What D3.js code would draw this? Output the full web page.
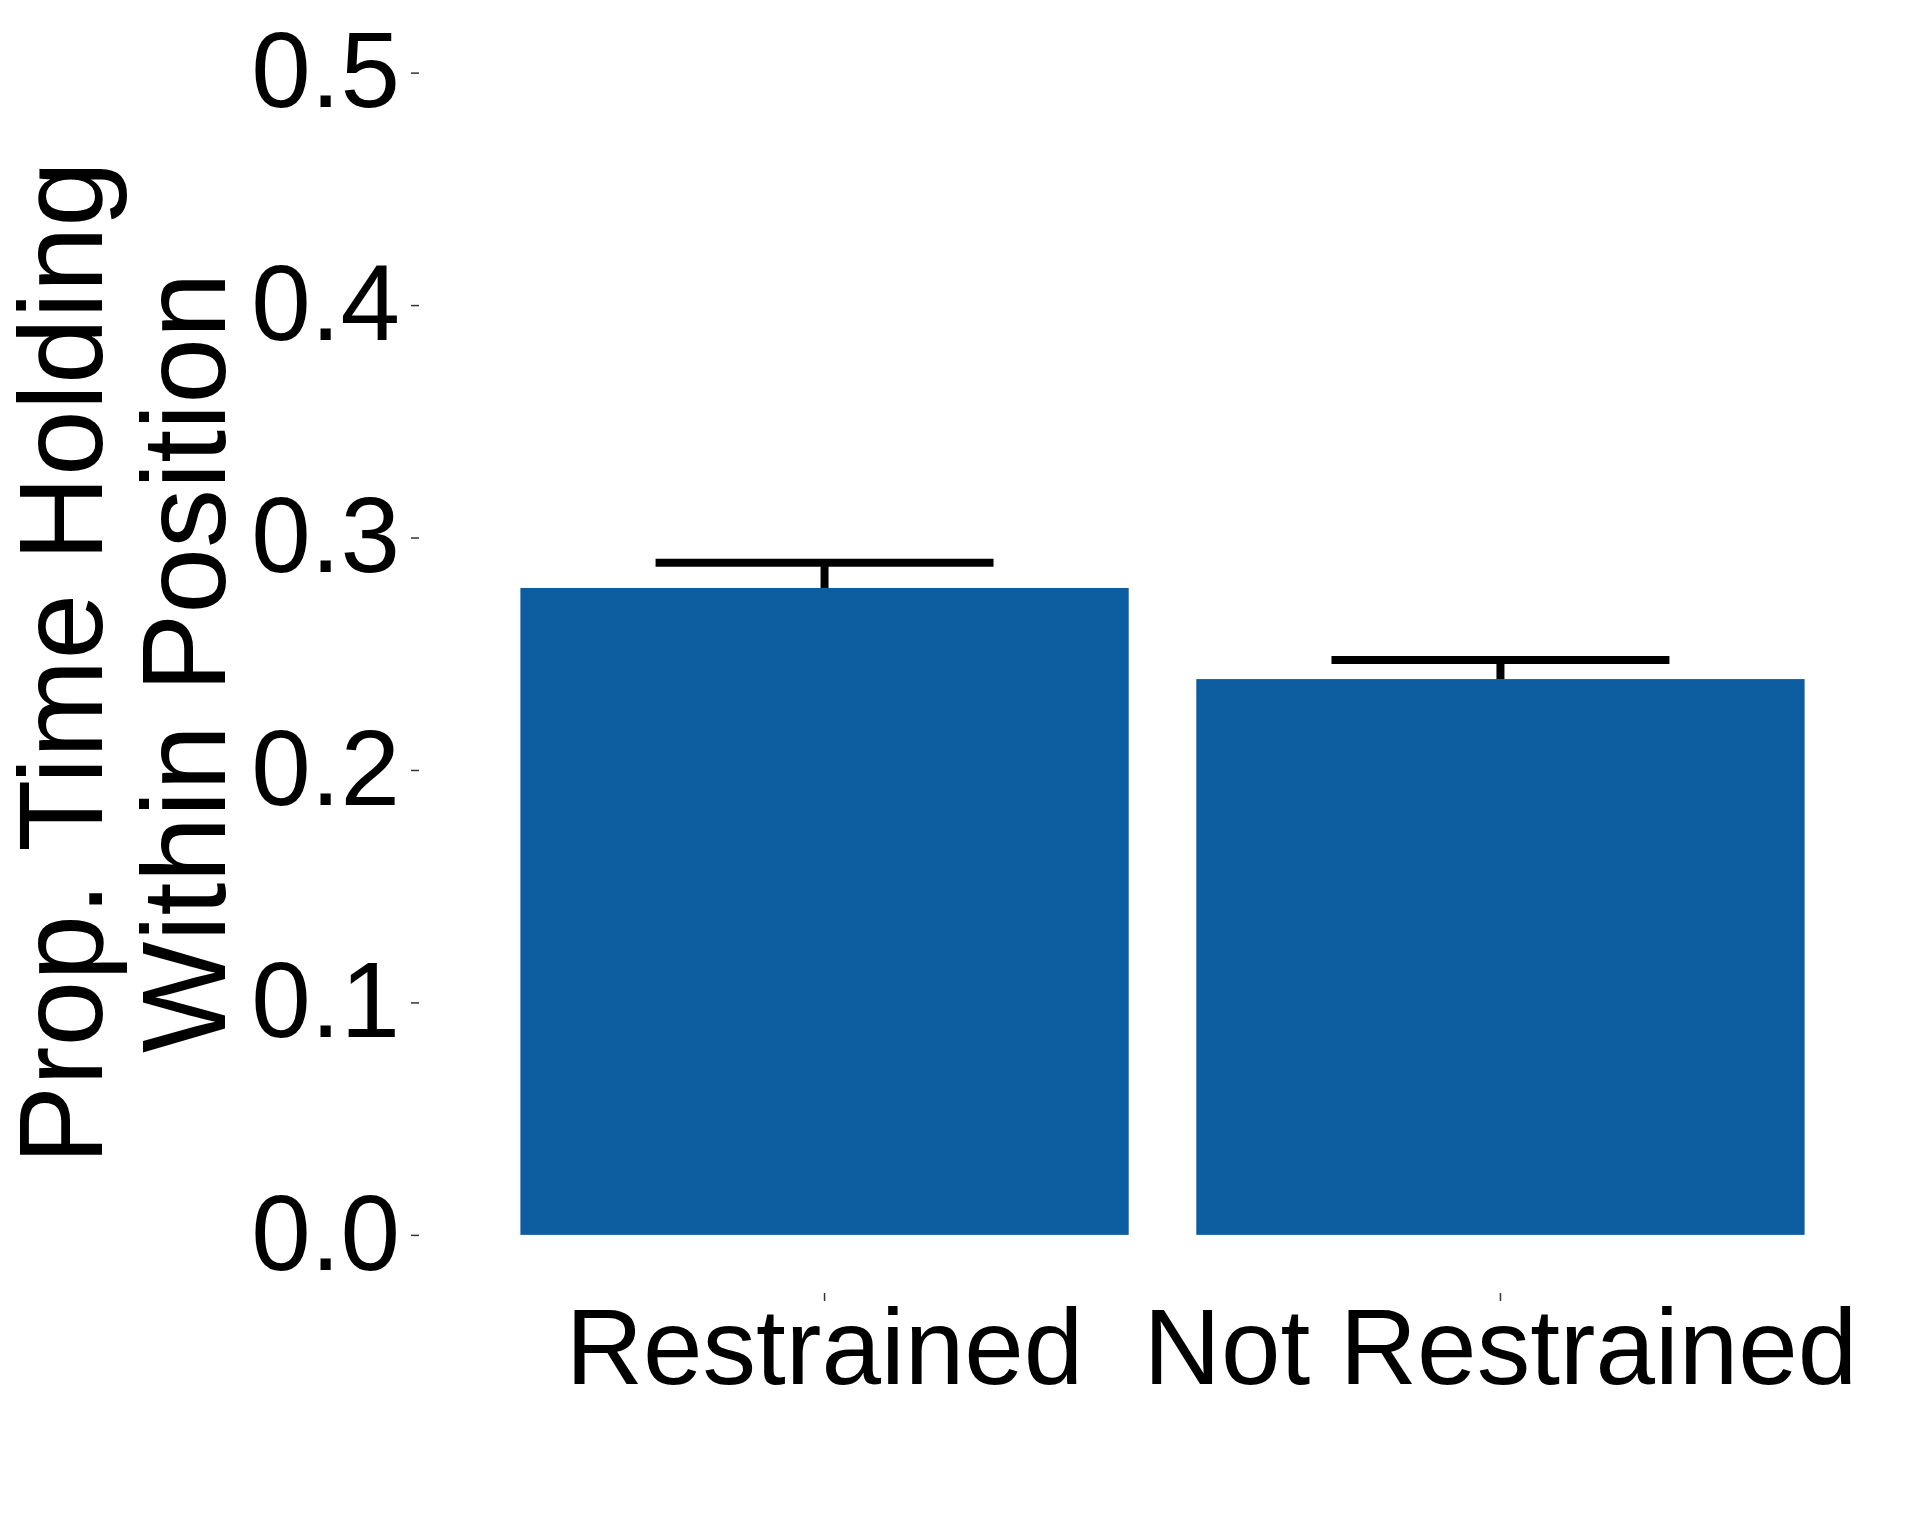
<!DOCTYPE html>
<html>
<head>
<meta charset="utf-8">
<title>Prop. Time Holding Within Position</title>
<script src="https://d3js.org/d3.v7.min.js"></script>
<style>
  body { margin: 0; background: #fff; }
  text { font-family: "Liberation Sans", Arial, sans-serif; fill: #000; }
</style>
</head>
<body>
<svg></svg>
<script>
// data
const categories = ["Restrained", "Not Restrained"];
const means = [0.2783, 0.2391];
const upper = [0.2892, 0.2473];   // mean + se
const yTicks = [0, 0.1, 0.2, 0.3, 0.4, 0.5];
const titleLines = ["Prop. Time Holding", "Within Position"];

const width = 1920, height = 1536;
const svg = d3.select("svg").attr("width", width).attr("height", height);

const panel = { left: 419, right: 1906, top: 14.5, bottom: 1293 };

const x = d3.scaleBand()
    .domain(categories)
    .range([panel.left, panel.right])
    .paddingInner(0.1)
    .paddingOuter(0.15);

const y = d3.scaleLinear()
    .domain([-0.025, 0.525])
    .range([panel.bottom, panel.top]);

// bars
svg.append("g").selectAll("rect")
    .data(categories)
    .enter().append("rect")
    .attr("x", d => x(d))
    .attr("width", x.bandwidth())
    .attr("y", (d, i) => y(means[i]))
    .attr("height", (d, i) => y(0) - y(means[i]))
    .attr("fill", "#0d5da1");

// error bars (upper half only)
const capW = x.step() * 0.5;
const eb = svg.append("g")
    .attr("stroke", "#000")
    .attr("stroke-width", 8);
categories.forEach((c, i) => {
  const cx = x(c) + x.bandwidth() / 2;
  eb.append("line")
    .attr("x1", cx).attr("x2", cx)
    .attr("y1", y(means[i])).attr("y2", y(upper[i]));
  eb.append("line")
    .attr("x1", cx - capW / 2).attr("x2", cx + capW / 2)
    .attr("y1", y(upper[i])).attr("y2", y(upper[i]));
});

// y axis
const yAxis = svg.append("g")
    .attr("transform", `translate(${panel.left},0)`)
    .call(d3.axisLeft(y).tickValues(yTicks).tickFormat(d3.format(".1f")).tickSize(8).tickPadding(11));
yAxis.select(".domain").remove();
yAxis.selectAll(".tick line").attr("stroke", "#333").attr("stroke-width", 1.5);
yAxis.selectAll(".tick text").attr("font-size", 107).attr("fill", "#000");

// x axis
const xAxis = svg.append("g")
    .attr("transform", `translate(0,${panel.bottom})`)
    .call(d3.axisBottom(x).tickSize(8));
xAxis.select(".domain").remove();
xAxis.selectAll(".tick line").attr("stroke", "#333").attr("stroke-width", 1.5);
xAxis.selectAll(".tick text")
    .attr("font-size", 107)
    .attr("fill", "#000")
    .attr("y", 91)
    .attr("dy", 0);

// y title
const cy = (panel.top + panel.bottom) / 2 + 9;
const title = svg.append("text")
    .attr("transform", `translate(0,${cy}) rotate(-90)`)
    .attr("text-anchor", "middle")
    .attr("font-size", 118);
title.selectAll("tspan")
    .data(titleLines)
    .enter().append("tspan")
    .attr("x", 0)
    .attr("y", (d, i) => i === 0 ? 102 : 225)
    .text(d => d);
</script>
</body>
</html>
